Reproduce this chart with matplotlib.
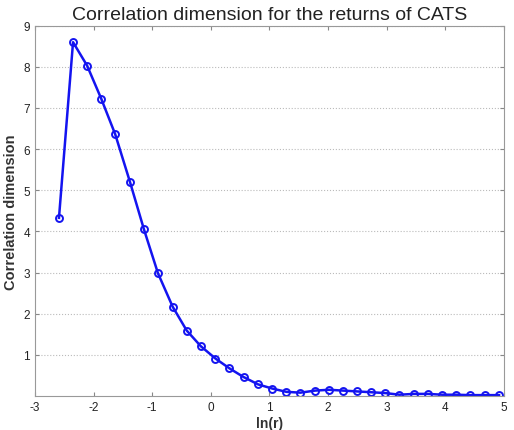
import matplotlib
matplotlib.use('Agg')
import matplotlib.pyplot as plt

plt.rcParams['font.family'] = ['Liberation Sans', 'DejaVu Sans']
plt.rcParams['axes.unicode_minus'] = False

# ln(r) values and the correlation dimension
ln_r = [-2.59, -2.35, -2.11, -1.87, -1.63, -1.38, -1.14, -0.90, -0.65, -0.41,
        -0.17, 0.08, 0.32, 0.56, 0.81, 1.05, 1.29, 1.53, 1.78, 2.02,
        2.26, 2.50, 2.74, 2.98, 3.22, 3.47, 3.71, 3.95, 4.19, 4.43,
        4.68, 4.92]
corr_dim = [4.33, 8.60, 8.03, 7.23, 6.36, 5.21, 4.05, 2.98, 2.17, 1.59,
            1.21, 0.91, 0.67, 0.46, 0.28, 0.18, 0.10, 0.08, 0.13, 0.15,
            0.13, 0.11, 0.09, 0.07, 0.03, 0.05, 0.05, 0.03, 0.03, 0.02,
            0.02, 0.02]

xticks = [-3, -2, -1, 0, 1, 2, 3, 4, 5]
yticks = [1, 2, 3, 4, 5, 6, 7, 8, 9]

fig = plt.figure(figsize=(5.14, 4.31), dpi=100)
ax = fig.add_axes([0.068, 0.079, 0.912, 0.859])

ax.plot(ln_r, corr_dim, color='#1414f0', linewidth=1.8, marker='o',
        markersize=5, markerfacecolor='none', markeredgewidth=1.4)

ax.set_xlim(-3, 5)
ax.set_ylim(0, 9)
ax.set_xticks(xticks)
ax.set_yticks(yticks)
ax.yaxis.grid(True, linestyle=':', color='#bbbbbb', linewidth=0.8)
ax.tick_params(direction='in', top=True, right=True, labelsize=8.5,
               length=3, color='#888888', labelcolor='#222222')
for s in ax.spines.values():
    s.set_color('#999999')

ax.set_title('Correlation dimension for the returns of CATS', fontsize=14,
             color='#222222', pad=5)
ax.set_xlabel('ln(r)', fontsize=10, fontweight='bold', color='#333333', labelpad=2)
ax.set_ylabel('Correlation dimension', fontsize=10.5, fontweight='bold',
              color='#333333', labelpad=4)

fig.savefig('out.png', dpi=100)
